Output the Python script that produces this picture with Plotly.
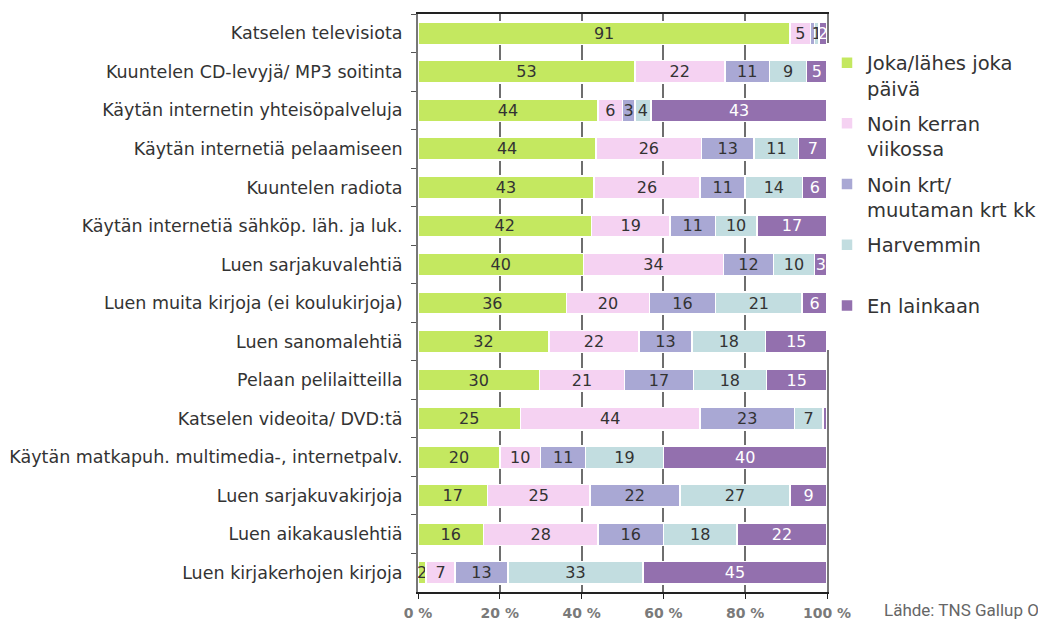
import plotly.graph_objects as go

categories = [
    "Katselen televisiota",
    "Kuuntelen CD-levyjä/ MP3 soitinta",
    "Käytän internetin yhteisöpalveluja",
    "Käytän internetiä pelaamiseen",
    "Kuuntelen radiota",
    "Käytän internetiä sähköp. läh. ja luk.",
    "Luen sarjakuvalehtiä",
    "Luen muita kirjoja (ei koulukirjoja)",
    "Luen sanomalehtiä",
    "Pelaan pelilaitteilla",
    "Katselen videoita/ DVD:tä",
    "Käytän matkapuh. multimedia-, internetpalv.",
    "Luen sarjakuvakirjoja",
    "Luen aikakauslehtiä",
    "Luen kirjakerhojen kirjoja",
]

series_names = [
    "Joka/lähes joka<br>päivä",
    "Noin kerran<br>viikossa",
    "Noin krt/<br>muutaman krt kk",
    "Harvemmin<br> ",
    "En lainkaan<br> ",
]

daily   = [91, 53, 44, 44, 43, 42, 40, 36, 32, 30, 25, 20, 17, 16, 2]
weekly  = [5, 22, 6, 26, 26, 19, 34, 20, 22, 21, 44, 10, 25, 28, 7]
monthly = [1, 11, 3, 13, 11, 11, 12, 16, 13, 17, 23, 11, 22, 16, 13]
rarely  = [1, 9, 4, 11, 14, 10, 10, 21, 18, 18, 7, 19, 27, 18, 33]
never   = [2, 5, 43, 7, 6, 17, 3, 6, 15, 15, 1, 40, 9, 22, 45]

# labels not printed in the original (segment too narrow): (series index, category index)
hidden_labels = {(2, 0), (4, 10)}

series_values = [daily, weekly, monthly, rarely, never]
colors = ["#C4E860", "#F5D2F2", "#A9A8D4", "#C2DDE0", "#9370AE"]
text_colors = ["#333333", "#333333", "#333333", "#333333", "#FFFFFF"]

tick_vals = [0, 20, 40, 60, 80, 100]
tick_text = ["0 %", "20 %", "40 %", "60 %", "80 %", "100 %"]

fig = go.Figure()
for si, (name, vals, col, tcol) in enumerate(zip(series_names, series_values, colors, text_colors)):
    labels = ["" if (si, ci) in hidden_labels else str(v) for ci, v in enumerate(vals)]
    fig.add_trace(go.Bar(
        y=categories, x=vals, orientation="h", name=name,
        marker=dict(color=col, line=dict(color="white", width=1.5)),
        text=labels, textposition="inside", insidetextanchor="middle", textangle=0,
        textfont=dict(family="DejaVu Sans", size=16, color=tcol),
        legendgroup=str(si), hoverinfo="skip",
    ))

fig.update_layout(
    width=1038, height=621,
    barmode="stack", barnorm="percent", bargap=0.42,
    plot_bgcolor="white", paper_bgcolor="white",
    margin=dict(l=418, r=211, t=14, b=29, autoexpand=False),
    uniformtext=dict(minsize=16, mode="show"),
    font=dict(family="DejaVu Sans", color="#333333"),
    legend=dict(
        x=1.0, xanchor="left", y=0.949, yanchor="top",
        font=dict(family="DejaVu Sans", size=19.5, color="#333333"),
        traceorder="grouped", tracegroupgap=7, valign="top",
        itemwidth=30,
    ),
    showlegend=True,
)

fig.update_xaxes(
    range=[0, 100], tickvals=tick_vals, ticktext=tick_text,
    showgrid=True, gridcolor="#6E6E6E", gridwidth=2,
    showline=True, linecolor="#222222", linewidth=2, mirror=True,
    ticks="outside", ticklen=5, tickcolor="#222222",
    tickfont=dict(family="DejaVu Sans", size=14, color="#7A7A7A", weight="bold"),
    ticklabelstandoff=2,
    zeroline=False, fixedrange=True, automargin=False,
)
fig.update_yaxes(
    autorange="reversed", categoryorder="array", categoryarray=categories,
    showline=True, linecolor="#777777", linewidth=2, mirror=True,
    ticks="outside", tickson="boundaries", ticklen=5, tickcolor="#555555",
    tickfont=dict(family="DejaVu Sans", size=17.5, color="#333333"),
    ticklabelstandoff=10, automargin=False, fixedrange=True,
)

fig.add_annotation(
    text="Lähde: TNS Gallup Oy", xref="paper", yref="paper",
    x=1.1345, y=-0.031, xanchor="left", yanchor="middle", showarrow=False,
    font=dict(family="Roboto", size=17, color="#666666"),
)

fig.write_html(
    "out.html",
    config={"displayModeBar": False},
    post_script="document.body.style.margin='0';document.body.style.padding='0';",
)
